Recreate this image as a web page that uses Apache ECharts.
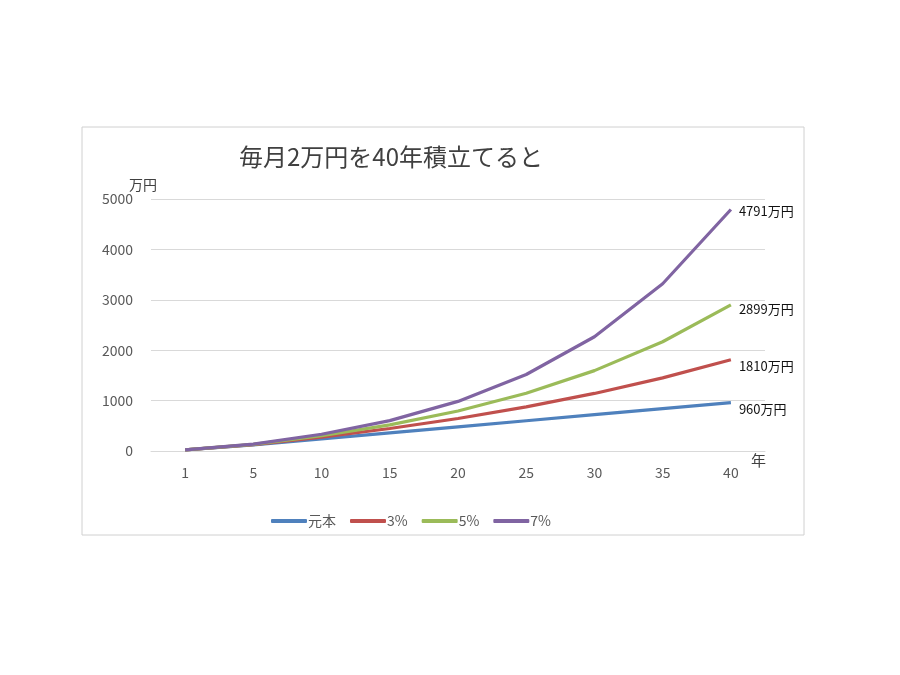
<!DOCTYPE html>
<html>
<head>
<meta charset="utf-8">
<script src="https://cdn.jsdelivr.net/npm/echarts@6/dist/echarts.min.js"></script>
<style>
  html, body { margin: 0; padding: 0; background: #fff; }
  #chart { width: 900px; height: 675px; }
</style>
</head>
<body>
<div id="chart"></div>
<script>
var years = ['1', '5', '10', '15', '20', '25', '30', '35', '40'];
var principal = [24, 120, 240, 360, 480, 600, 720, 840, 960];
var rate3 = [24, 127, 275, 446, 645, 875, 1142, 1451, 1810];
var rate5 = [24, 133, 302, 518, 794, 1145, 1595, 2168, 2899];
var rate7 = [24, 138, 332, 603, 984, 1518, 2267, 3318, 4791];
var yTicks = [0, 1000, 2000, 3000, 4000, 5000];

var font = '"Noto Sans CJK JP", "Noto Sans", sans-serif';

function makeSeries(name, data, color, offY) {
  return {
    name: name,
    type: 'line',
    data: data,
    symbol: 'none',
    lineStyle: { color: color, width: 3.2 },
    itemStyle: { color: color },
    endLabel: {
      show: true,
      formatter: function (p) { return p.value + '万円'; },
      color: '#111',
      fontSize: 13,
      fontFamily: font,
      distance: 8,
      offset: [0, offY]
    }
  };
}

var chart = echarts.init(document.getElementById('chart'));
chart.setOption({
  animation: false,
  backgroundColor: '#fff',
  textStyle: { fontFamily: font },
  title: {
    text: '毎月2万円を40年積立てると',
    left: 234,
    top: 140,
    textStyle: { fontSize: 24, fontWeight: 'normal', color: '#404040', fontFamily: font }
  },
  legend: {
    left: 266,
    top: 509,
    itemWidth: 36,
    itemHeight: 4,
    itemGap: 14,
    icon: 'roundRect',
    textStyle: { color: '#595959', fontSize: 14, fontFamily: font, padding: [0, 0, 0, -4] },
    data: ['元本', '3%', '5%', '7%']
  },
  grid: { left: 151, right: 135, top: 199, bottom: 224, containLabel: false },
  xAxis: {
    type: 'category',
    data: years,
    boundaryGap: true,
    name: '年',
    nameLocation: 'end',
    nameGap: 2,
    nameTextStyle: { color: '#404040', fontSize: 15, verticalAlign: 'top', padding: [2, 0, 0, -16] },
    axisLine: { lineStyle: { color: '#d9d9d9', width: 1 } },
    axisTick: { show: false },
    axisLabel: { color: '#595959', fontSize: 14, margin: 15 }
  },
  yAxis: {
    type: 'value',
    min: yTicks[0],
    max: yTicks[yTicks.length - 1],
    interval: 1000,
    name: '万円',
    nameGap: 6,
    nameTextStyle: { color: '#404040', fontSize: 14, align: 'left', padding: [0, 0, 0, -22] },
    axisLine: { show: false },
    axisTick: { show: false },
    axisLabel: { color: '#595959', fontSize: 14, margin: 18, formatter: function (v) { return String(v); } },
    splitLine: { lineStyle: { color: '#d9d9d9', width: 1 } }
  },
  graphic: [{
    type: 'rect',
    shape: { x: 82, y: 127, width: 722, height: 408 },
    style: { fill: 'none', stroke: '#d0d0d0', lineWidth: 1 },
    silent: true
  }],
  series: [
    makeSeries('元本', principal, '#4F81BD', 6),
    makeSeries('3%', rate3, '#C0504D', 6),
    makeSeries('5%', rate5, '#9BBB59', 4),
    makeSeries('7%', rate7, '#8064A2', 2)
  ]
});
</script>
</body>
</html>
